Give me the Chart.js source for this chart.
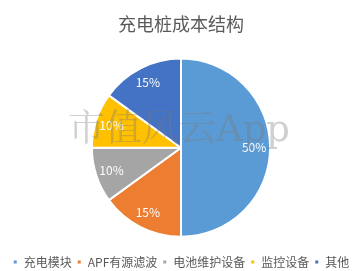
<!DOCTYPE html>
<html>
<head>
<meta charset="utf-8">
<script src="https://cdn.jsdelivr.net/npm/chart.js@4"></script>
<style>
  html, body { margin: 0; padding: 0; background: #fff; overflow: hidden; }
  #wrap { width: 362px; height: 271px; overflow: hidden; }
</style>
</head>
<body>
<div id="wrap"><canvas id="myChart" width="362" height="278"></canvas></div>
<script>
const categories = ["充电模块", "APF有源滤波", "电池维护设备", "监控设备", "其他"];
const shares = [50, 15, 10, 10, 15];
const palette = ["#5B9BD5", "#ED7D31", "#A5A5A5", "#FFC000", "#4472C4"];
const fontCJK = "'Noto Sans CJK SC', 'Noto Sans', sans-serif";

// percent labels inside each slice
const sliceLabels = {
  id: "sliceLabels",
  afterDatasetsDraw(chart) {
    const ctx = chart.ctx;
    const meta = chart.getDatasetMeta(0);
    ctx.save();
    ctx.fillStyle = "#fff";
    ctx.font = "12px " + fontCJK;
    ctx.textAlign = "center";
    ctx.textBaseline = "middle";
    meta.data.forEach((arc, i) => {
      const mid = (arc.startAngle + arc.endAngle) / 2;
      const r = arc.outerRadius * 0.82;
      ctx.fillText(shares[i] + "%", arc.x + Math.cos(mid) * r, arc.y + Math.sin(mid) * r);
    });
    ctx.restore();
  },
};

// faint watermark over the pie
const watermark = {
  id: "watermark",
  afterDraw(chart) {
    const ctx = chart.ctx;
    ctx.save();
    ctx.fillStyle = "rgba(120,120,120,0.35)";
    ctx.font = "37px 'DejaVu Serif', 'Noto Serif CJK SC', serif";
    ctx.textAlign = "center";
    ctx.textBaseline = "middle";
    ctx.fillText("市值风云App", 179, 131);
    ctx.restore();
  },
};

new Chart(document.getElementById("myChart").getContext("2d"), {
  type: "pie",
  data: {
    labels: categories,
    datasets: [{
      data: shares,
      backgroundColor: palette,
      borderColor: "#fff",
      borderWidth: 2,
    }],
  },
  options: {
    responsive: false,
    animation: false,
    plugins: {
      title: {
        display: true,
        text: "充电桩成本结构",
        color: "#595959",
        font: { family: fontCJK, size: 18, weight: "normal" },
        padding: { top: 13, bottom: 23 },
      },
      // empty spacer between pie and legend
      subtitle: {
        display: true,
        text: "",
        position: "bottom",
        weight: 500,
        font: { size: 1 },
        padding: { top: 0, bottom: 12 },
      },
      legend: {
        position: "bottom",
        labels: {
          color: "#595959",
          font: { family: fontCJK, size: 12 },
          boxWidth: 5,
          boxHeight: 5,
          padding: 5,
        },
      },
      tooltip: { enabled: false },
    },
  },
  plugins: [sliceLabels, watermark],
});
</script>
</body>
</html>
